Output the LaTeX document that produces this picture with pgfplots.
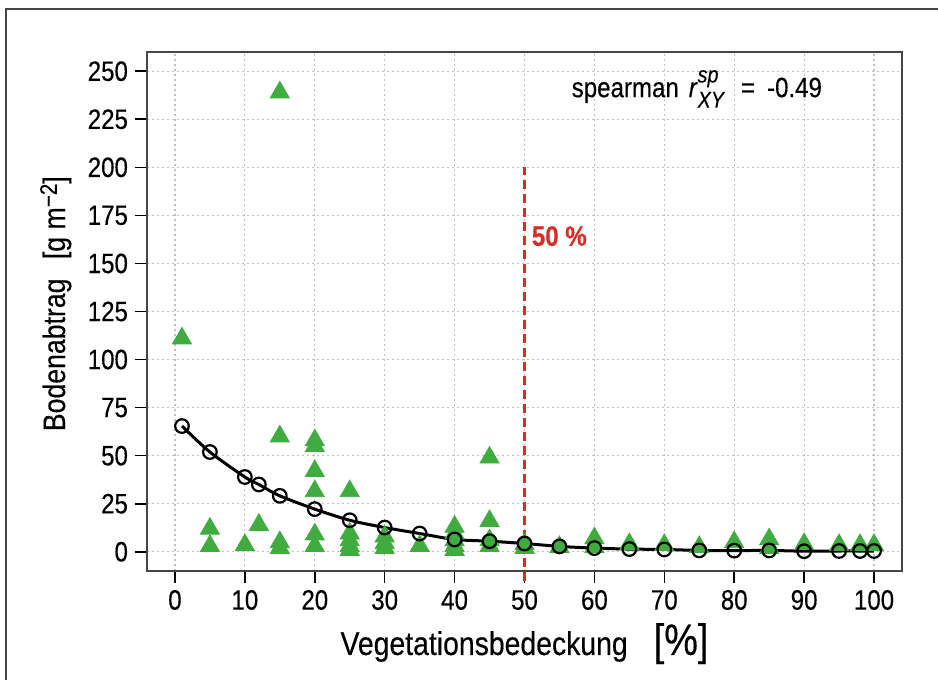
\documentclass[border=0pt]{standalone}
\usepackage{fontspec}
\setmainfont[FakeStretch=0.86, FakeBold=0.35]{Liberation Sans}
\usepackage{amsmath}
\usepackage{pgfplots}
\usepackage{pgfplotstable}
\pgfplotsset{compat=1.18}
\definecolor{tri}{RGB}{64,172,64}
\definecolor{redl}{RGB}{215,45,40}
\definecolor{framec}{RGB}{70,70,70}
\definecolor{gridc}{RGB}{195,190,190}

\pgfplotstableread{
x y
1 111
5 12
5 3
10 3.5
12 14
15 239
15 60
15 5
15 2
20 58
20 55
20 42
20 31.5
20 9
20 3
25 31.5
25 9.5
25 6
25 3
25 1
30 8
30 4.5
30 2
35 3
40 13
40 9.5
40 6
40 3
40 1
45 49
45 16
45 6
45 3
50 4
50 2
55 2.5
60 7
60 2.5
65 4
70 3.5
75 2.5
80 5
85 6.5
85 2
90 4
95 3.5
98 3.5
100 3.5
}\tridata

\pgfplotstableread{
x y
1 65.4
5 51.9
10 38.9
12 35.0
15 29.1
20 22.2
25 16.4
30 12.6
35 9.5
40 6.4
45 5.5
50 4.3
55 2.8
60 1.9
65 1.4
70 1.2
75 0.7
80 0.6
85 0.7
90 0.3
95 0.4
98 0.4
100 0.4
}\fitdata

\begin{document}
\begin{tikzpicture}
\useasboundingbox (0,0) rectangle (469pt,340pt);
\draw[framec, line width=0.9pt] (3pt,-10pt) |- (480pt,335.5pt);
\begin{axis}[
  at={(73.5pt,54.5pt)}, anchor=south west,
  scale only axis, width=377.5pt, height=259.5pt,
  xmin=-4, xmax=104, ymin=-10, ymax=260,
  xtick={0,10,...,100}, ytick={0,25,...,250},
  xtick pos=bottom, ytick pos=left,
  tick align=outside, major tick length=6pt,
  tick style={black, line width=0.8pt},
  axis line style={framec, line width=1pt},
  grid=major,
  grid style={gridc, line width=0.6pt, dash pattern=on 1pt off 1.5pt},
  /pgf/number format/assume math mode=true,
  ticklabel style={font=\fontsize{14}{16}\selectfont},
  xlabel={Vegetationsbedeckung\hspace{13pt}{\fontsize{22}{26}\selectfont[\%]}},
  xlabel style={at={(axis description cs:0.5,-0.1618)}, anchor=base, font=\fontsize{16.5}{20}\selectfont},
  ylabel={Bodenabtrag\hspace{6pt} [g m\raisebox{0.5ex}{\fontsize{12}{14}\selectfont −2}]},
  ylabel style={at={(axis description cs:-0.1086,0.515)}, anchor=base, font=\fontsize{15.5}{18}\selectfont},
  clip=false,
]
\addplot[only marks, mark=triangle*, mark size=5.5pt, color=tri, mark options={draw=none, fill=tri}] table {\tridata};
\addplot[black, line width=1.5pt, smooth, tension=0.5, mark=o, mark size=3.4pt, mark options={line width=1.1pt, fill=none}] table {\fitdata};
\addplot[redl, line width=1.5pt, dash pattern=on 4.5pt off 2.5pt] coordinates {(50,-15) (50,200)};
\node[anchor=base west, font=\fontsize{14}{16}\selectfont, inner sep=0pt] at (axis cs:56.7,236.5) {spearman\hspace{5pt}\textit{r}$^{\text{\fontsize{11.5}{12}\selectfont\itshape sp}}_{\text{\fontsize{11.5}{12}\selectfont\itshape XY}}$\hspace{8pt}=\hspace{6pt}-0.49};
\node[anchor=base west, text=redl, font=\fontsize{14}{16}\selectfont\bfseries, inner sep=0pt] at (axis cs:51,159.2) {50 \%};
\end{axis}
\end{tikzpicture}
\end{document}
